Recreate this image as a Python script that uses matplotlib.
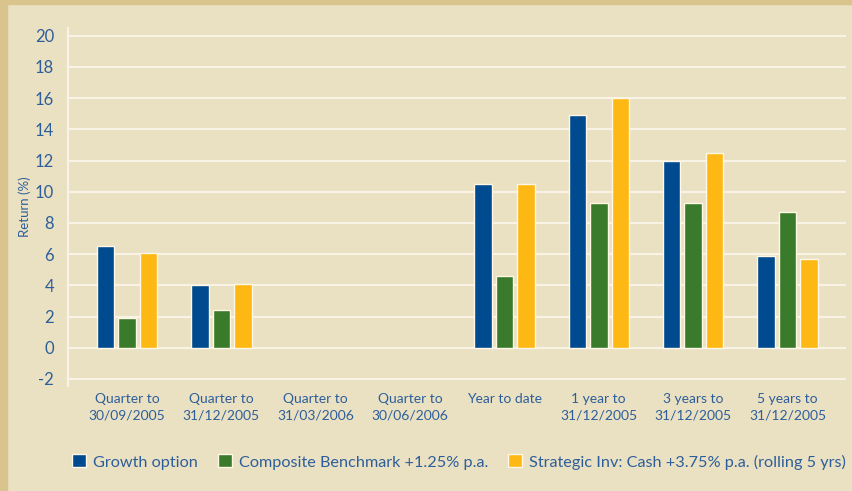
import numpy as np
import matplotlib.pyplot as plt
from matplotlib.patches import Rectangle

categories = ["Quarter to\n30/09/2005", "Quarter to\n31/12/2005", "Quarter to\n31/03/2006",
              "Quarter to\n30/06/2006", "Year to date", "1 year to\n31/12/2005",
              "3 years to\n31/12/2005", "5 years to\n31/12/2005"]
series_names = ["Growth option", "Composite Benchmark +1.25% p.a.",
                "Strategic Inv: Cash +3.75% p.a. (rolling 5 yrs)"]
growth = [6.5, 4.0, np.nan, np.nan, 10.5, 14.9, 12.0, 5.9]
composite = [1.9, 2.4, np.nan, np.nan, 4.6, 9.25, 9.3, 8.7]
strategic = [6.1, 4.1, np.nan, np.nan, 10.5, 16.0, 12.5, 5.7]
yticks = list(range(-2, 21, 2))

colors = ["#004A8F", "#3A7B2B", "#FDB813"]
bg = "#EAE1C3"
txt = "#2E5E9A"

plt.rcParams['font.family'] = ['Lato', 'DejaVu Sans']

fig = plt.figure(figsize=(8.53, 4.91), dpi=100, facecolor=bg)
# border strips
fig.patches.append(Rectangle((0, 0), 7/853, 1, transform=fig.transFigure, color="#D8C48C", zorder=0))
fig.patches.append(Rectangle((0, 1-4/491), 1, 4/491, transform=fig.transFigure, color="#D8C48C", zorder=0))

ax = fig.add_axes([68/853, 1-386/491, (846-68)/853, (386-28)/491])
ax.set_facecolor(bg)

x = np.arange(len(categories))
step = 0.228
w = 0.185
for i, (vals, c, n) in enumerate(zip([growth, composite, strategic], colors, series_names)):
    ax.bar(x + (i-1)*step, vals, width=w, color=c, edgecolor="#FFF8E6", linewidth=1.0, label=n, zorder=3)

ax.set_xlim(-0.626, 7.62)
ax.set_ylim(-2.45, 20.5)
ax.set_yticks(yticks)
ax.set_yticklabels([str(t) for t in yticks], color=txt, fontsize=12)
for t in yticks:
    ax.axhline(t, color="#F8F3E4", lw=1.6, zorder=1)
for s in ["top", "right", "bottom"]:
    ax.spines[s].set_visible(False)
ax.spines["left"].set_color("#F8F3E4")
ax.spines["left"].set_linewidth(1.6)
ax.tick_params(axis='y', length=0, pad=10)
ax.tick_params(axis='x', length=0, pad=5)
ax.set_xticks(x)
ax.set_xticklabels(categories, color=txt, fontsize=10, linespacing=1.45)
ax.set_ylabel("Return (%)", color=txt, fontsize=9.5, labelpad=3)

handles, labels = ax.get_legend_handles_labels()
leg = fig.legend(handles, labels, loc="center", bbox_to_anchor=(459/853, 1-462/491), ncol=3,
                 frameon=False, fontsize=11.7, handlelength=0.85, handleheight=0.85,
                 handletextpad=0.45, columnspacing=1.2, labelcolor=txt)

fig.savefig("out.png", dpi=100, facecolor=bg)
